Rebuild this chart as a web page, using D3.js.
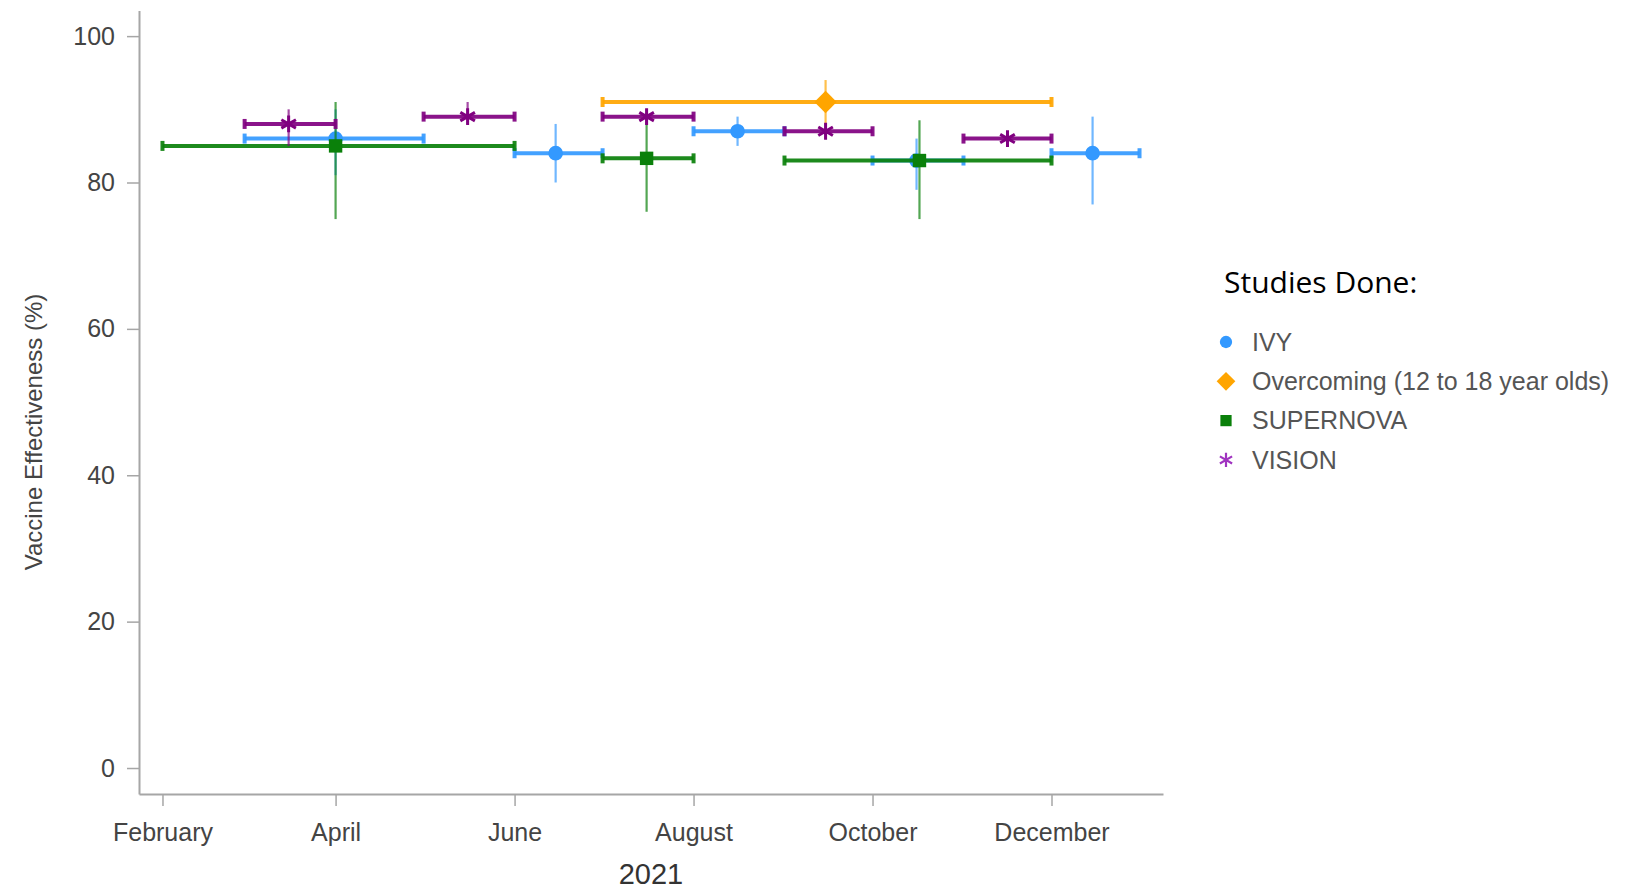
<!DOCTYPE html>
<html>
<head>
<meta charset="utf-8">
<script src="https://cdn.jsdelivr.net/npm/d3@7"></script>
<style>
  body { margin: 0; background: #fff; }
  text { font-family: "Liberation Sans", Arial, sans-serif; }
</style>
</head>
<body>
<div id="chart"></div>
<script>
// Study names, colours and marker shapes (legend order)
var studies = ["IVY", "Overcoming (12 to 18 year olds)", "SUPERNOVA", "VISION"];
var studyColors = ["#3399ff", "#ffa500", "#0a800a", "#800080"];

// Each row: point date, interval start, interval end, effectiveness, lower, upper
var ivy = [
    { date: "2021-04-01", start: "2021-03-01", end: "2021-05-01", ve: 86, lo: 81, hi: 90 },
    { date: "2021-06-15", start: "2021-06-01", end: "2021-07-01", ve: 84, lo: 80, hi: 88 },
    { date: "2021-08-16", start: "2021-08-01", end: "2021-09-01", ve: 87, lo: 85, hi: 89 },
    { date: "2021-10-16", start: "2021-10-01", end: "2021-11-01", ve: 83, lo: 79, hi: 86 },
    { date: "2021-12-15", start: "2021-12-01", end: "2021-12-31", ve: 84, lo: 77, hi: 89 }
];
var overcoming = [
    { date: "2021-09-15", start: "2021-07-01", end: "2021-12-01", ve: 91, lo: 88, hi: 94 }
];
var supernova = [
    { date: "2021-04-01", start: "2021-02-01", end: "2021-06-01", ve: 85, lo: 75, hi: 91 },
    { date: "2021-07-16", start: "2021-07-01", end: "2021-08-01", ve: 83.3, lo: 76, hi: 89.5 },
    { date: "2021-10-17", start: "2021-09-01", end: "2021-12-01", ve: 83, lo: 75, hi: 88.5 }
];
var vision = [
    { date: "2021-03-16", start: "2021-03-01", end: "2021-04-01", ve: 88, lo: 85, hi: 90 },
    { date: "2021-05-16", start: "2021-05-01", end: "2021-06-01", ve: 89, lo: 88, hi: 91 },
    { date: "2021-07-16", start: "2021-07-01", end: "2021-08-01", ve: 89, lo: 88, hi: 90 },
    { date: "2021-09-15", start: "2021-09-01", end: "2021-10-01", ve: 87, lo: 86, hi: 88 },
    { date: "2021-11-16", start: "2021-11-01", end: "2021-12-01", ve: 86, lo: 85, hi: 87 }
];

// Axis ticks
var xTickDates = ["2021-02-01", "2021-04-01", "2021-06-01", "2021-08-01", "2021-10-01", "2021-12-01"];
var xTickLabels = ["February", "April", "June", "August", "October", "December"];
var yTicks = [0, 20, 40, 60, 80, 100];

var parse = d3.timeParse("%Y-%m-%d");

var svg = d3.select("#chart")
    .append("svg")
    .attr("width", 1639)
    .attr("height", 891);

// Scales (axis lines run a little past the first/last tick)
var x = d3.scaleTime()
    .domain([parse("2021-01-24"), parse("2022-01-08")])
    .range([139, 1163]);

var y = d3.scaleLinear()
    .domain([-3.55, 103.5])
    .range([794, 10.5]);

// Axes
var xAxis = svg.append("g")
    .attr("transform", "translate(0,794)")
    .call(d3.axisBottom(x)
        .tickValues(xTickDates.map(parse))
        .tickFormat(function (d, i) { return xTickLabels[i]; })
        .tickSize(12)
        .tickSizeOuter(0)
        .tickPadding(17));

var yAxis = svg.append("g")
    .attr("transform", "translate(139,0)")
    .call(d3.axisLeft(y)
        .tickValues(yTicks)
        .tickSize(12)
        .tickSizeOuter(0)
        .tickPadding(12));

[xAxis, yAxis].forEach(function (g) {
    g.select(".domain").attr("stroke", "#a6a6a6").attr("stroke-width", 2);
    g.selectAll(".tick line").attr("stroke", "#a6a6a6").attr("stroke-width", 1.5);
    g.selectAll(".tick text")
        .attr("fill", "#444")
        .style("font-size", "25px")
        .style("font-family", "'Liberation Sans', Arial, sans-serif");
});

// Axis titles
svg.append("text")
    .attr("text-anchor", "middle")
    .attr("x", 651)
    .attr("y", 884)
    .attr("fill", "#333")
    .style("font-size", "29px")
    .text("2021");

svg.append("text")
    .attr("text-anchor", "middle")
    .attr("transform", "translate(34,432) rotate(-90)")
    .attr("dy", "0.35em")
    .attr("fill", "#444")
    .style("font-size", "24px")
    .text("Vaccine Effectiveness (%)");

// Marker generators
var starType = d3.symbolAsterisk || d3.symbolCross;
function marker(i, big) {
    var s = big ? 1 : 0.7;
    if (i === 0) return d3.symbol().type(d3.symbolCircle).size(170 * s)();
    if (i === 1) return d3.symbol().type(d3.symbolSquare).size(250 * s)();
    if (i === 2) return d3.symbol().type(d3.symbolSquare).size(180 * s)();
    return d3.symbol().type(starType).size(200 * s)();
}

// Error bars
var allSeries = [ivy, overcoming, supernova, vision];

allSeries.forEach(function (rows, i) {
    var color = studyColors[i];
    var g = svg.append("g");

    rows.forEach(function (d) {
        var cx = x(parse(d.date));
        var cy = y(d.ve);

        // vertical confidence interval
        g.append("line")
            .attr("x1", cx).attr("x2", cx)
            .attr("y1", y(d.lo)).attr("y2", y(d.hi))
            .attr("stroke", color)
            .attr("stroke-width", 2.2)
            .attr("stroke-opacity", 0.7);

        // horizontal study period
        g.append("line")
            .attr("x1", x(parse(d.start))).attr("x2", x(parse(d.end)))
            .attr("y1", cy).attr("y2", cy)
            .attr("stroke", color)
            .attr("stroke-width", 4)
            .attr("stroke-opacity", 0.92);

        // end caps
        [d.start, d.end].forEach(function (t) {
            g.append("line")
                .attr("x1", x(parse(t))).attr("x2", x(parse(t)))
                .attr("y1", cy - 5).attr("y2", cy + 5)
                .attr("stroke", color)
                .attr("stroke-width", 4)
                .attr("stroke-opacity", 0.92);
        });

        // point marker
        var m = g.append("path")
            .attr("d", marker(i, true))
            .attr("transform", "translate(" + cx + "," + cy + ")" + (i === 1 ? " rotate(45)" : ""));
        if (i === 3) {
            m.attr("fill", "none").attr("stroke", color).attr("stroke-width", 3);
        } else {
            m.attr("fill", color);
        }
    });
});

// Legend
svg.append("text")
    .attr("x", 1224)
    .attr("y", 293)
    .attr("fill", "#000")
    .style("font-family", "'Open Sans', 'Noto Sans', sans-serif")
    .style("font-size", "30px")
    .text("Studies Done:");

var legendColors = ["#3399ff", "#ffa500", "#0a800a", "#a033c0"];
studies.forEach(function (name, i) {
    var ly = 342 + i * 39.3;
    var m = svg.append("path")
        .attr("d", marker(i, false))
        .attr("transform", "translate(1226," + ly + ")" + (i === 1 ? " rotate(45)" : ""));
    if (i === 3) {
        m.attr("fill", "none").attr("stroke", legendColors[i]).attr("stroke-width", 2.2);
    } else {
        m.attr("fill", legendColors[i]);
    }
    svg.append("text")
        .attr("x", 1252)
        .attr("y", ly)
        .attr("dy", "0.35em")
        .attr("fill", "#555")
        .style("font-size", "25px")
        .text(name);
});
</script>
</body>
</html>
